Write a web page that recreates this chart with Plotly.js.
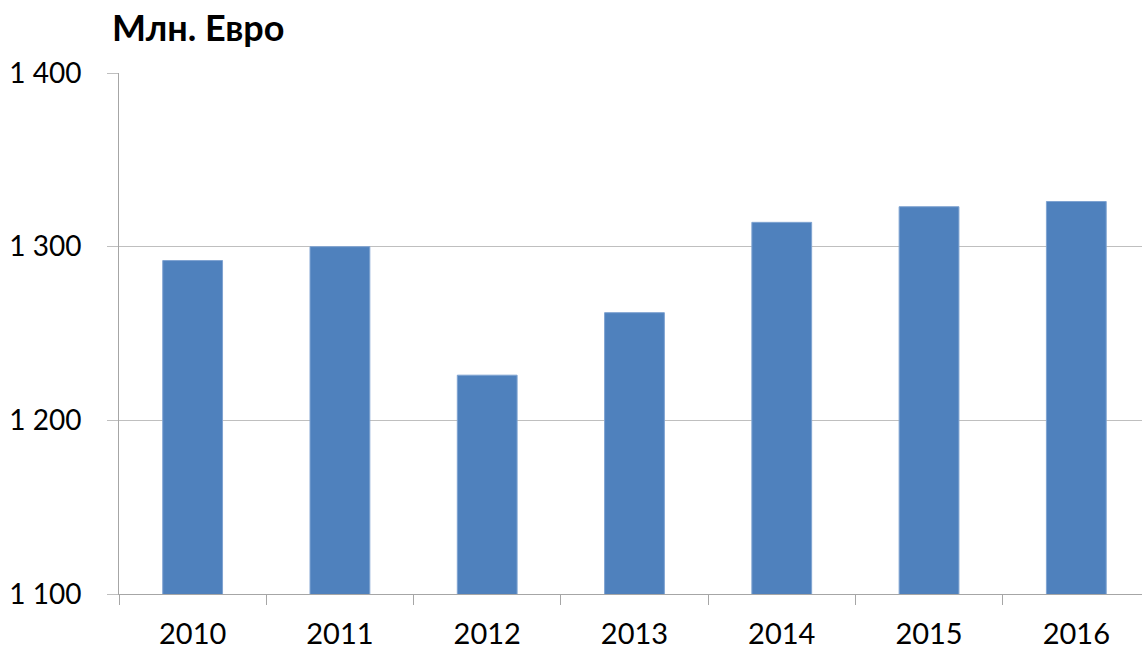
<!DOCTYPE html>
<html>
<head>
<meta charset="utf-8">
<script src="https://cdn.plot.ly/plotly-3.0.1.min.js"></script>
<style>html,body{margin:0;padding:0;background:#fff;}#chart{width:1142px;height:649px;}</style>
</head>
<body>
<div id="chart"></div>
<script>
const years = ["2010", "2011", "2012", "2013", "2014", "2015", "2016"];
const values = [1292, 1300, 1226, 1262, 1314, 1323, 1326];
const yTickVals = [1100, 1200, 1300, 1400];
const yTickText = ["1 100", "1 200", "1 300", "1 400"];
const titleText = "Млн. Евро";

const trace = {
  type: "bar",
  x: years,
  y: values,
  marker: {color: "#4F81BD", line: {color: "#7FA3D1", width: 1}},
  hoverinfo: "none"
};

const layout = {
  width: 1142,
  height: 649,
  margin: {l: 118.6, r: 0, t: 72.5, b: 55},
  paper_bgcolor: "#ffffff",
  plot_bgcolor: "#ffffff",
  bargap: 0.594,
  showlegend: false,
  font: {family: "Lato, 'Open Sans', sans-serif", color: "#000000", size: 28},
  title: {
    text: "<b>" + titleText + "</b>",
    x: 112 / 1142, xref: "container", xanchor: "left",
    y: 1 - 28 / 649, yref: "container", yanchor: "middle",
    font: {size: 36, family: "Lato, 'Open Sans', sans-serif", color: "#000"}
  },
  xaxis: {
    type: "category",
    range: [-0.5, 6.446],
    showline: true, linecolor: "#A6A6A6", linewidth: 1,
    ticks: "outside", tickson: "boundaries", ticklen: 10, tickcolor: "#A6A6A6", tickwidth: 1,
    ticklabelstandoff: 14,
    tickfont: {size: 29},
    showgrid: false,
    fixedrange: true
  },
  yaxis: {
    range: [1100, 1400],
    tickvals: yTickVals,
    ticktext: yTickText,
    showgrid: true, gridcolor: "#BFBFBF", gridwidth: 1,
    showline: true, linecolor: "#A6A6A6", linewidth: 1,
    ticks: "outside", ticklen: 11, tickcolor: "#BFBFBF", tickwidth: 1,
    ticklabelstandoff: 20,
    zeroline: false,
    tickfont: {size: 28},
    fixedrange: true
  }
};

Plotly.newPlot("chart", [trace], layout, {staticPlot: true, displayModeBar: false});
</script>
</body>
</html>
